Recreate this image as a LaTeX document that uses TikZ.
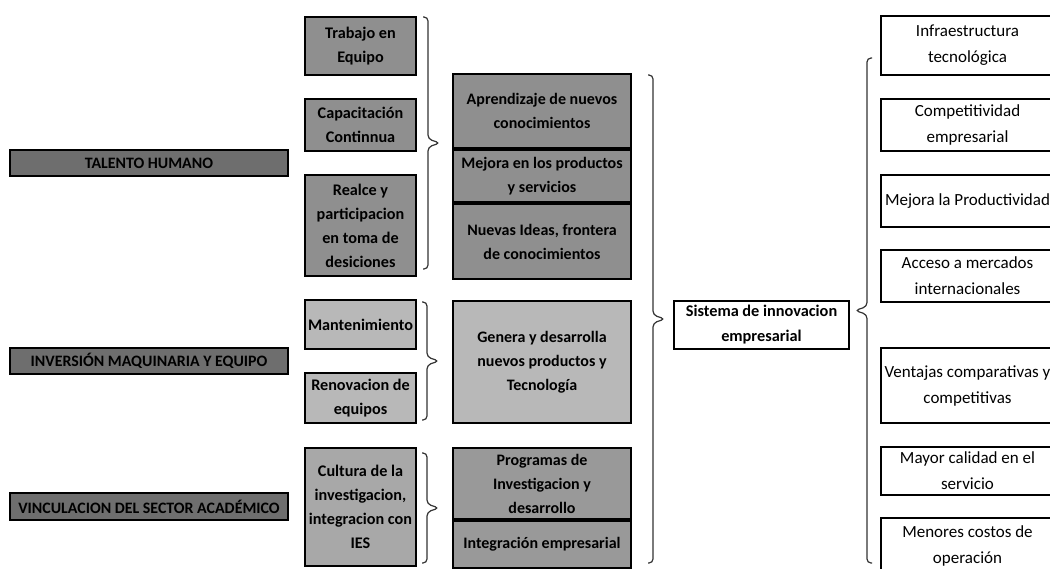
\documentclass[tikz,border=0pt]{standalone}
\usepackage{fontspec}
\setmainfont{Carlito}
\usetikzlibrary{positioning}

\definecolor{grisoscuro}{gray}{0.43}
\definecolor{grismedio}{gray}{0.56}
\definecolor{grisclaro}{gray}{0.72}
\definecolor{griscult}{gray}{0.66}
\definecolor{grisprog}{gray}{0.6}

\tikzset{
	caja/.style={draw=black, line width=1pt, inner sep=0pt, align=center},
	eje/.style={caja, fill=grisoscuro, minimum width=139pt, font=\bfseries\fontsize{7.95}{9}\selectfont},
	factor/.style={caja, minimum width=55.5pt, font=\bfseries\fontsize{8.1}{12}\selectfont},
	efecto/.style={caja, minimum width=89pt, font=\bfseries\fontsize{8}{12}\selectfont},
	resultado/.style={caja, fill=white, minimum width=86.5pt, font=\fontsize{8.5}{13}\selectfont},
	llavetrazo/.style={draw=black!80, line width=0.6pt, rounded corners=2pt}
}

% llave: x, arriba, abajo, sentido (1 derecha, -1 izquierda)
\newcommand{\llave}[4]{%
	\begin{scope}[shift={(#1,0)}, xscale=#4]
		\draw[llavetrazo] (-5,#2) -- (0,#2) -- (0,{(#2+#3)/2-4}) -- (12,{(#2+#3)/2})
			-- (0,{(#2+#3)/2+4}) -- (0,#3) -- (-5,#3);
	\end{scope}}

\begin{document}
\begin{tikzpicture}[x=0.5pt, y=-0.5pt]
	\clip (0,0) rectangle (1050,568);
	% ejes
	\node[eje, minimum height=13pt] (th) at (149,163) {TALENTO HUMANO};
	\node[eje, minimum height=13pt] (im) at (149,361) {INVERSIÓN MAQUINARIA Y EQUIPO};
	\node[eje, minimum height=13.5pt] (vs) at (149,506.5) {VINCULACION DEL SECTOR ACADÉMICO};
	% factores
	\node[factor, fill=grismedio, minimum height=29pt] (te) at (360.5,46) {Trabajo en\\Equipo};
	\node[factor, fill=grismedio, minimum height=26pt] (cc) at (360.5,125) {Capacitación\\Continnua};
	\node[factor, fill=grismedio, minimum height=50.5pt] (rp) at (360.5,225.5) {Realce y\\participacion\\en toma de\\desiciones};
	\node[factor, fill=grisclaro, minimum height=24.5pt] (mt) at (360.5,324.5) {Mantenimiento};
	\node[factor, fill=grisclaro, minimum height=25pt] (re) at (360.5,398) {Renovacion de\\equipos};
	\node[factor, fill=griscult, minimum height=59pt] (ci) at (360.5,507) {Cultura de la\\investigacion,\\integracion con\\IES};
	% efectos
	\node[efecto, fill=grismedio, minimum height=37pt] (ap) at (542,111) {Aprendizaje de nuevos\\conocimientos};
	\node[efecto, fill=grismedio, minimum height=26pt] (mp) [below=0pt of ap] {Mejora en los productos\\y servicios};
	\node[efecto, fill=grismedio, minimum height=37.5pt] (ni) [below=0pt of mp] {Nuevas Ideas, frontera\\de conocimientos};
	\node[efecto, fill=grisclaro, minimum height=61pt] (gd) at (542,362) {Genera y desarrolla\\nuevos productos y\\Tecnología};
	\node[efecto, fill=grisprog, minimum height=35.5pt] (pi) at (542,483.5) {Programas de\\Investigacion y\\desarrollo};
	\node[efecto, fill=grisprog, minimum height=23.5pt] (ie) [below=0pt of pi] {Integración empresarial};
	% sistema
	\node[caja, fill=white, minimum width=87.5pt, minimum height=24pt, font=\bfseries\fontsize{8.15}{12.5}\selectfont] (si) at (761.5,325) {Sistema de innovacion\\empresarial};
	% resultados
	\node[resultado, minimum height=29.5pt] (it) at (967.5,45.5) {Infraestructura\\tecnológica};
	\node[resultado, minimum height=26pt] (ce) at (967.5,125) {Competitividad\\empresarial};
	\node[resultado, minimum height=26pt] (mpr) at (967.5,201) {Mejora la Productividad};
	\node[resultado, minimum height=26pt] (am) at (967.5,276) {Acceso a mercados\\internacionales};
	\node[resultado, minimum height=37.5pt] (vc) at (967.5,385.5) {Ventajas comparativas y\\competitivas};
	\node[resultado, minimum height=24pt] (mc) at (967.5,471) {Mayor calidad en el\\servicio};
	\node[resultado, minimum height=27.5pt] (mo) at (967.5,545.5) {Menores costos de\\operación};
	% llaves
	\llave{428}{17}{269}{1}
	\llave{427}{302}{420}{1}
	\llave{427}{453}{563}{1}
	\llave{653}{75}{563}{1}
	\llave{867}{58}{563}{-1}
\end{tikzpicture}
\end{document}
